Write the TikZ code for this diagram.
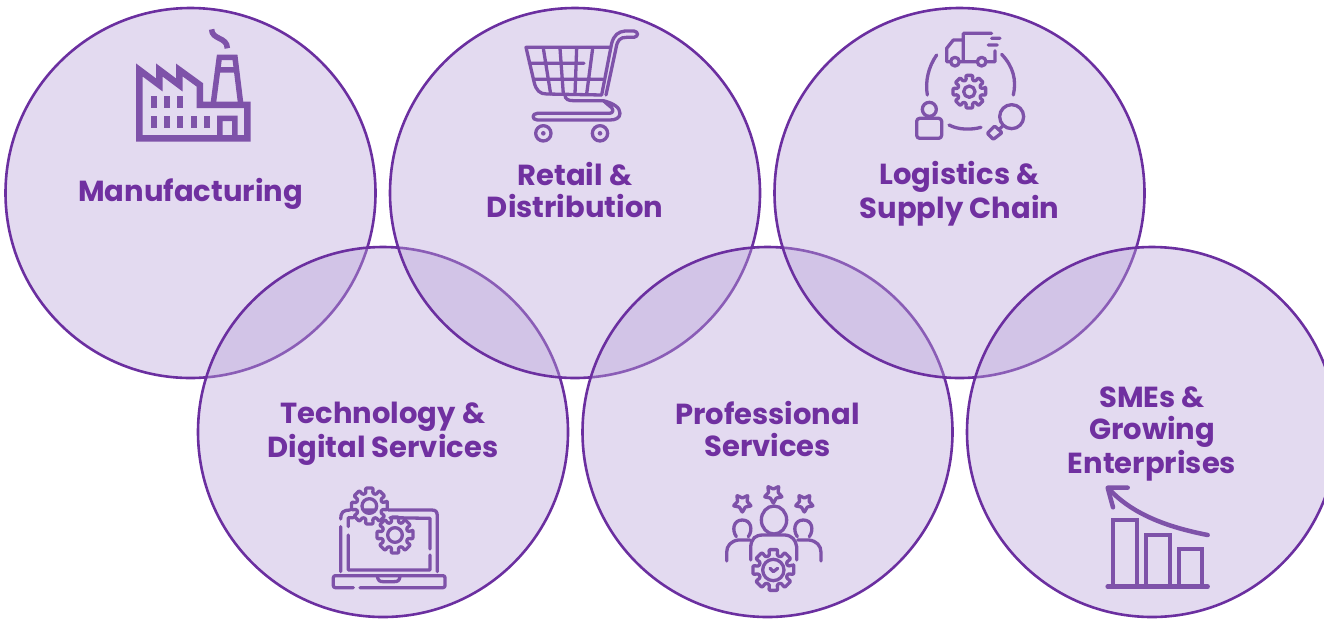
\documentclass[tikz,border=0pt]{standalone}
\usepackage{fontspec}
\setmainfont{Poppins}
\usepackage{xcolor}
\usetikzlibrary{positioning}
\definecolor{sectorline}{HTML}{6B2FA0}
\definecolor{sectorfill}{HTML}{B9A2D9}
\definecolor{sectortext}{HTML}{7030A0}
\definecolor{iconpurple}{HTML}{7E52A9}
\newcommand{\linestrut}{\rule[-7pt]{0pt}{31.9pt}}

\begin{document}
\begin{tikzpicture}[
  x=1pt, y=-1pt,
  node distance= 14.5pt and 14.5pt,
  sector/.style={draw=sectorline,circle,line width=2.6pt,fill=sectorfill,fill opacity=0.4,
    text opacity=1,minimum size=370pt,inner sep=0pt,outer sep=0pt,align=center,
    text=sectortext,font=\fontsize{29}{32}\selectfont\bfseries},
  iconline/.style={draw=iconpurple,line width=3.3pt,line cap=round,line join=round},
  iconzone/.style={shift={#1},x=0.3333pt,y=-0.3333pt},
  gearpic/.pic={
    \draw[iconline,rounded corners=1pt] (-14:50) \foreach \a in {0,45,...,315} {
      -- (\a-12:50) -- (\a+12:50) -- (\a+15:36) -- (\a+30:36)} -- cycle;
  },
  starpic/.pic={
    \draw[iconline,rounded corners=0.5pt] (90:28) -- (126:15) -- (162:28) -- (198:15) -- (234:28)
      -- (270:15) -- (306:28) -- (342:15) -- (18:28) -- (54:15) -- cycle;
  }
]
\clip (0,0) rectangle (1324,619);
\node[sector] (manufacturing) at (190.5,193) {Manufacturing\linestrut};
\node[sector] (technology) at (383,432) {Technology \&\linestrut\\Digital Services\linestrut};
\node[sector, right=of manufacturing] (retail) {Retail \&\linestrut\\Distribution\linestrut};
\node[sector, right=of technology] (professional) {Professional\linestrut\\Services\linestrut};
\node[sector, right=of retail] (logistics) {Logistics \&\linestrut\\Supply Chain\linestrut};
\node[sector, right=of professional] (smes) {SMEs \&\linestrut\\Growing\linestrut\\Enterprises\linestrut};

% factory
\begin{scope}[iconzone={(120,20)}]
\draw[iconline,line width=6.5pt,line cap=butt,line join=miter] (58,150) -- (58,355) -- (382,355) -- (382,255)
  -- (240,255) -- (240,195) -- (178,150) -- (178,195) -- (118,150) -- (118,195) -- cycle;
\draw[iconline,line width=5.5pt,line cap=butt,line join=miter] (280,250) -- (298,112) -- (345,112) -- (362,250)
  (292,150) -- (352,150) (300,355) -- (300,295) -- (345,295) -- (345,355);
\draw[iconline,line width=5.5pt,line cap=butt] (275,28) .. controls (275,60) and (322,50) .. (322,85);
\foreach \x in {92,132,172} {\fill[iconpurple] (\x,228) rectangle ++(18,37);}
\foreach \x in {92,132,172,212,252} {\fill[iconpurple] (\x,287) rectangle ++(18,38);}
\end{scope}

% cart
\begin{scope}[iconzone={(510,20)}]
\draw[iconline] (298,82) -- (48,82) -- (72,185) .. controls (78,212) and (90,222) .. (110,222) -- (275,225)
  -- (305,70) .. controls (312,45) and (325,35) .. (345,33) -- (372,33)
  .. controls (386,35) and (386,50) .. (372,52) -- (350,52) .. controls (330,52) and (322,60) .. (318,85) -- (288,225);
\draw[iconline] (165,225) .. controls (165,238) and (175,242) .. (190,242) -- (280,242)
  .. controls (310,250) and (330,262) .. (330,280) .. controls (330,295) and (315,300) .. (300,300) -- (82,300)
  .. controls (65,300) and (65,280) .. (82,280) -- (295,280) .. controls (315,280) and (312,265) .. (295,255) -- (280,242);
\draw[iconline] (100,85) -- (122,222) (150,85) -- (160,222) (200,85) -- (195,222) (248,85) -- (230,222)
  (58,130) -- (222,130) (72,178) -- (278,178);
\draw[iconline] (100,340) circle (23) (270,340) circle (23);
\fill[iconpurple] (100,340) circle (7) (270,340) circle (7);
\end{scope}

% supply chain loop
\begin{scope}[iconzone={(900,20)}]
\draw[iconline] (178,125) -- (232,125) (258,125) -- (285,125) -- (285,92) (275,40) -- (190,40) -- (190,125)
  (190,60) -- (160,60) -- (140,85) -- (140,125) -- (152,125) (265,75) -- (292,75) (275,55) -- (300,55);
\draw[iconline] (165,125) circle (13) (245,125) circle (13);
\draw[iconline] (110,105) .. controls (85,140) and (75,185) .. (82,225);
\draw[iconline] (305,103) .. controls (340,140) and (350,180) .. (340,225);
\draw[iconline] (147,315) .. controls (175,330) and (215,330) .. (243,322);
\pic at (208,215) {gearpic};
\draw[iconline] (208,215) circle (17);
\draw[iconline] (88,268) circle (21);
\draw[iconline,rounded corners=3pt] (50,355) -- (50,295) -- (125,295) -- (125,355) -- cycle;
\draw[iconline] (335,290) circle (36);
\draw[iconline] (310,316) -- (298,328);
\draw[iconline,rounded corners=1pt] (284,318) -- (306,338) -- (280,358) -- (262,340) -- cycle;
\end{scope}

% laptop
\begin{scope}[iconzone={(320,475)}]
\draw[iconline] (62,290) -- (62,155) (62,132) .. controls (62,112) and (70,105) .. (90,105)
  (205,105) -- (335,105) .. controls (348,105) and (352,110) .. (352,125) -- (352,290);
\draw[iconline] (85,180) -- (85,285) -- (330,285) -- (330,240) (330,222) -- (330,130) -- (210,128) (85,155) -- (85,128) -- (100,128);
\draw[iconline,rounded corners=2pt] (100,338) -- (40,338) -- (40,302) -- (375,302) -- (375,338) -- (120,338);
\draw[iconline] (172,305) .. controls (175,318) and (180,320) .. (190,320) -- (222,320) .. controls (232,320) and (238,318) .. (240,305);
\pic[scale=1.1] at (148,93) {gearpic};
\pic[scale=1.1] at (225,180) {gearpic};
\draw[iconline] (148,93) circle (22) (128,105) -- (168,105) (225,180) circle (22);
\end{scope}

% people
\begin{scope}[iconzone={(705,475)}]
\pic at (205,57) {starpic};
\pic at (112,84) {starpic};
\pic at (298,84) {starpic};
\draw[iconline] (207,135) ellipse (38 and 42);
\draw[iconline] (137,255) -- (137,215) .. controls (140,190) and (150,180) .. (175,180) -- (240,180)
  .. controls (262,182) and (272,195) .. (275,215) -- (275,255);
\draw[iconline] (135,195) -- (100,195) .. controls (78,198) and (65,212) .. (65,232) -- (65,258);
\draw[iconline] (278,195) -- (312,195) .. controls (335,198) and (348,212) .. (348,232) -- (348,258);
\draw[iconline] (94,185) .. controls (80,165) and (85,135) .. (112,135) .. controls (139,135) and (144,165) .. (130,185);
\draw[iconline] (277,185) .. controls (263,165) and (268,135) .. (295,135) .. controls (322,135) and (327,165) .. (313,185);
\pic[scale=1.25] at (205,285) {gearpic};
\draw[iconline] (205,285) circle (32);
\draw[iconline] (195,280) -- (205,290) -- (218,280);
\end{scope}

% chart
\begin{scope}[iconzone={(1085,475)}]
\draw[iconline,line width=3.8pt,line cap=butt,line join=miter] (85,335) -- (85,135) -- (155,135) -- (155,335)
  (183,335) -- (183,180) -- (255,180) -- (255,335) (282,335) -- (282,222) -- (352,222) -- (352,335);
\draw[iconline,line width=4.5pt] (68,335) -- (368,335);
\draw[iconline,line width=4.5pt] (368,180) .. controls (240,155) and (140,115) .. (72,42);
\draw[iconline,line width=4.5pt] (128,38) -- (68,38) -- (84,97);
\end{scope}
\end{tikzpicture}
\end{document}
